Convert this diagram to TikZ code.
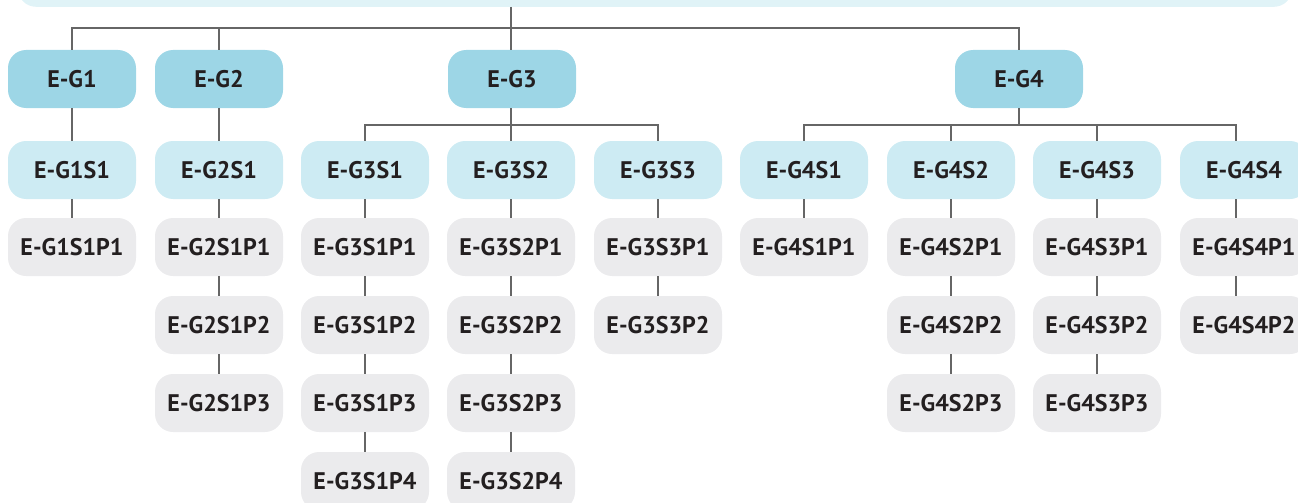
\documentclass[tikz,border=0pt]{standalone}
\usepackage{fontspec}
\setmainfont{PT Sans}
\definecolor{gcol}{HTML}{9DD6E6}
\definecolor{scol}{HTML}{CDEBF3}
\definecolor{pcol}{HTML}{EBEBED}
\definecolor{topcol}{HTML}{E0F3F7}
\definecolor{linecol}{HTML}{666666}
\definecolor{txt}{HTML}{231F20}
\tikzset{
  box/.style={rounded corners=18pt, minimum width=128pt, minimum height=58pt, inner sep=0pt,
    font=\fontsize{24}{28}\selectfont\bfseries, text=txt},
  gbox/.style={box, fill=gcol},
  sbox/.style={box, fill=scol},
  pbox/.style={box, fill=pcol},
  conn/.style={draw=linecol, line width=2.7pt},
}
\begin{document}
\begin{tikzpicture}[x=1pt,y=-1pt]
\useasboundingbox (0,0) rectangle (1298,503);
\node[rounded corners=18pt, fill=topcol, minimum width=1274pt, minimum height=60pt, anchor=south, inner sep=0pt] (root) at (655,7) {};
% G row
\node[gbox] (g1) at (72,79) {E-G1};
\node[gbox] (g2) at (219,79) {E-G2};
\node[gbox] (g3) at (512,79) {E-G3};
\node[gbox] (g4) at (1019,79) {E-G4};
% S row
\node[sbox] (g1s1) at (72,170) {E-G1S1};
\node[sbox] (g2s1) at (219,170) {E-G2S1};
\node[sbox] (g3s1) at (365,170) {E-G3S1};
\node[sbox] (g3s2) at (511,170) {E-G3S2};
\node[sbox] (g3s3) at (658,170) {E-G3S3};
\node[sbox] (g4s1) at (804,170) {E-G4S1};
\node[sbox] (g4s2) at (951,170) {E-G4S2};
\node[sbox] (g4s3) at (1097,170) {E-G4S3};
\node[sbox] (g4s4) at (1244,170) {E-G4S4};
% P rows
\node[pbox] (g1s1p1) at (72,247) {E-G1S1P1};
\node[pbox] (g2s1p1) at (219,247) {E-G2S1P1};
\node[pbox] (g2s1p2) at (219,325) {E-G2S1P2};
\node[pbox] (g2s1p3) at (219,403) {E-G2S1P3};
\node[pbox] (g3s1p1) at (365,247) {E-G3S1P1};
\node[pbox] (g3s1p2) at (365,325) {E-G3S1P2};
\node[pbox] (g3s1p3) at (365,403) {E-G3S1P3};
\node[pbox] (g3s1p4) at (365,481) {E-G3S1P4};
\node[pbox] (g3s2p1) at (511,247) {E-G3S2P1};
\node[pbox] (g3s2p2) at (511,325) {E-G3S2P2};
\node[pbox] (g3s2p3) at (511,403) {E-G3S2P3};
\node[pbox] (g3s2p4) at (511,481) {E-G3S2P4};
\node[pbox] (g3s3p1) at (658,247) {E-G3S3P1};
\node[pbox] (g3s3p2) at (658,325) {E-G3S3P2};
\node[pbox] (g4s1p1) at (804,247) {E-G4S1P1};
\node[pbox] (g4s2p1) at (951,247) {E-G4S2P1};
\node[pbox] (g4s2p2) at (951,325) {E-G4S2P2};
\node[pbox] (g4s2p3) at (951,403) {E-G4S2P3};
\node[pbox] (g4s3p1) at (1097,247) {E-G4S3P1};
\node[pbox] (g4s3p2) at (1097,325) {E-G4S3P2};
\node[pbox] (g4s3p3) at (1097,403) {E-G4S3P3};
\node[pbox] (g4s4p1) at (1244,247) {E-G4S4P1};
\node[pbox] (g4s4p2) at (1244,325) {E-G4S4P2};
% coordinates
\coordinate (bus) at (511,28);
\coordinate (bus3) at (511,125);
\coordinate (bus4) at (1019,125);
\coordinate (g4s4top) at (1236,125);
% top level connectors
\draw[conn] (root.south -| bus) -- (bus);
\draw[conn] (g1.north) |- (g4.north |- bus) -- (g4.north);
\draw[conn] (g2.north) -- (g2.north |- bus);
\draw[conn] (g3.north -| bus) -- (bus);
% G3 subs
\draw[conn] (g3.south -| bus3) -- (bus3);
\draw[conn] (g3s1.north) |- (g3s3.north |- bus3) -- (g3s3.north);
\draw[conn] (g3s2.north) -- (g3s2.north |- bus3);
% G4 subs
\draw[conn] (g4.south) -- (bus4);
\draw[conn] (g4s1.north) |- (g4s4top) -- (g4s4.north -| g4s4top);
\draw[conn] (g4s2.north) -- (g4s2.north |- bus4);
\draw[conn] (g4s3.north) -- (g4s3.north |- bus4);
% G1, G2
\draw[conn] (g1.south) -- (g1s1.north);
\draw[conn] (g2.south) -- (g2s1.north);
% S to P
\draw[conn] (g1s1.south) -- (g1s1p1.north);
\draw[conn] (g2s1.south) -- (g2s1p1.north);
\draw[conn] (g2s1p1.south) -- (g2s1p2.north);
\draw[conn] (g2s1p2.south) -- (g2s1p3.north);
\draw[conn] (g3s1.south) -- (g3s1p1.north);
\draw[conn] (g3s1p1.south) -- (g3s1p2.north);
\draw[conn] (g3s1p2.south) -- (g3s1p3.north);
\draw[conn] (g3s1p3.south) -- (g3s1p4.north);
\draw[conn] (g3s2.south) -- (g3s2p1.north);
\draw[conn] (g3s2p1.south) -- (g3s2p2.north);
\draw[conn] (g3s2p2.south) -- (g3s2p3.north);
\draw[conn] (g3s2p3.south) -- (g3s2p4.north);
\draw[conn] (g3s3.south) -- (g3s3p1.north);
\draw[conn] (g3s3p1.south) -- (g3s3p2.north);
\draw[conn] (g4s1.south) -- (g4s1p1.north);
\draw[conn] (g4s2.south) -- (g4s2p1.north);
\draw[conn] (g4s2p1.south) -- (g4s2p2.north);
\draw[conn] (g4s2p2.south) -- (g4s2p3.north);
\draw[conn] (g4s3.south) -- (g4s3p1.north);
\draw[conn] (g4s3p1.south) -- (g4s3p2.north);
\draw[conn] (g4s3p2.south) -- (g4s3p3.north);
\draw[conn] (g4s4.south -| g4s4top) -- (g4s4p1.north -| g4s4top);
\draw[conn] (g4s4p1.south -| g4s4top) -- (g4s4p2.north -| g4s4top);
\end{tikzpicture}
\end{document}
